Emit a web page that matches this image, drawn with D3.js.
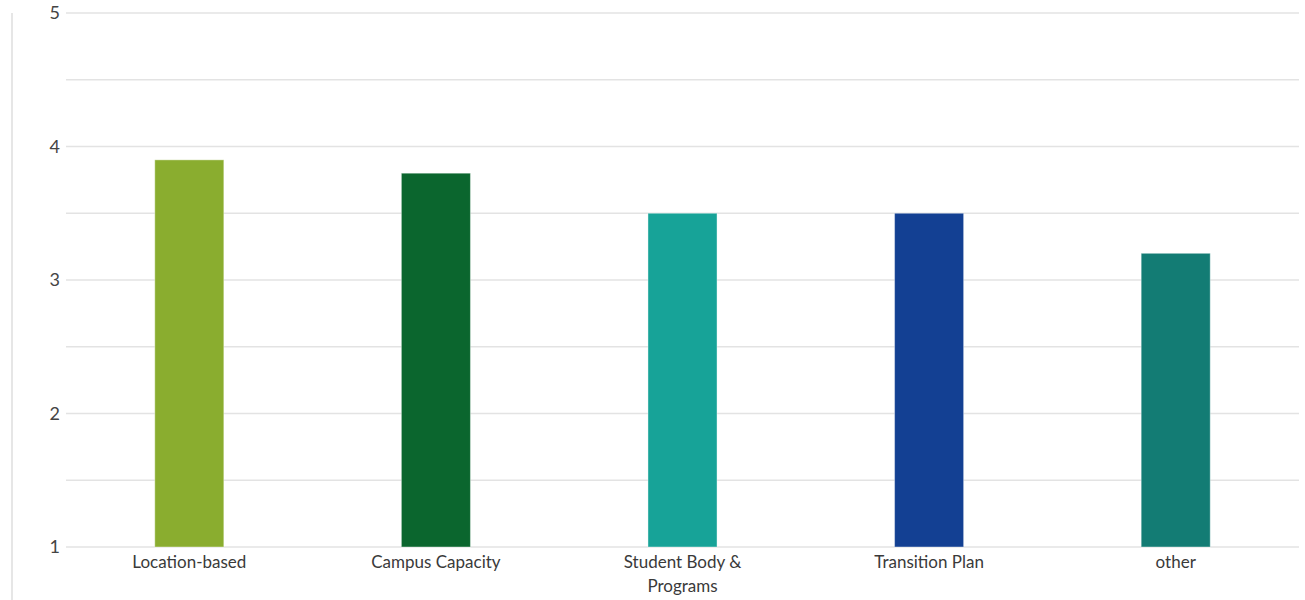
<!DOCTYPE html>
<html>
<head>
<meta charset="utf-8">
<script src="https://cdn.jsdelivr.net/npm/d3@7"></script>
<style>
  body { margin: 0; background: #fff; }
  svg { display: block; }
  svg text { font-family: Lato, 'Open Sans', sans-serif; }
</style>
</head>
<body>
<svg id="chart"></svg>
<script>
const categories = ['Location-based', 'Campus Capacity', 'Student Body & Programs', 'Transition Plan', 'other'];
const values = [3.9, 3.8, 3.5, 3.5, 3.2];
const barColors = ['#8aad2f', '#0b662e', '#17a398', '#134093', '#137c74'];
const yTicks = [1, 2, 3, 4, 5];
const gridTicks = [1, 1.5, 2, 2.5, 3, 3.5, 4, 4.5, 5];

const width = 1305, height = 600;
const margin = { top: 13, right: 6, bottom: 53, left: 66 };

const svg = d3.select('#chart')
  .attr('width', width)
  .attr('height', height);

// left border line
svg.append('line')
  .attr('x1', 12).attr('x2', 12)
  .attr('y1', 13).attr('y2', height)
  .attr('stroke', '#e6e6e6')
  .attr('stroke-width', 2);

const g = svg.append('g')
  .attr('transform', `translate(${margin.left},${margin.top})`);

const innerW = width - margin.left - margin.right;
const innerH = height - margin.top - margin.bottom;

const x = d3.scaleBand()
  .domain(categories)
  .range([0, innerW])
  .paddingInner(0.72)
  .paddingOuter(0.36);

const y = d3.scaleLinear()
  .domain([1, 5])
  .range([innerH, 0]);

// gridlines
g.append('g')
  .selectAll('line')
  .data(gridTicks)
  .enter()
  .append('line')
  .attr('x1', 0)
  .attr('x2', innerW)
  .attr('y1', d => y(d))
  .attr('y2', d => y(d))
  .attr('stroke', '#e3e3e3')
  .attr('stroke-width', 1.5);

// bars
g.selectAll('.bar')
  .data(categories)
  .enter()
  .append('rect')
  .attr('class', 'bar')
  .attr('x', d => x(d))
  .attr('y', (d, i) => y(values[i]))
  .attr('width', x.bandwidth())
  .attr('height', (d, i) => innerH - y(values[i]))
  .attr('fill', (d, i) => barColors[i])
  .attr('stroke', 'rgba(255,255,255,0.4)')
  .attr('stroke-width', 1);

// Y axis
const yAxis = g.append('g')
  .call(d3.axisLeft(y).tickValues(yTicks).tickFormat(d3.format('d')).tickSize(0).tickPadding(6));
yAxis.attr('font-family', null);
yAxis.select('.domain').remove();
yAxis.selectAll('text')
  .attr('fill', '#444')
  .style('font-size', '18px');

// X axis
const xAxis = g.append('g')
  .attr('transform', `translate(0,${innerH})`)
  .call(d3.axisBottom(x).tickSize(0).tickPadding(9));
xAxis.attr('font-family', null);
xAxis.select('.domain').remove();
xAxis.selectAll('text')
  .attr('fill', '#3a3a3a')
  .style('font-size', '17px')
  .call(wrap, 150);

function wrap(texts, maxW) {
  texts.each(function () {
    const text = d3.select(this);
    const words = text.text().split(/\s+/);
    const yy = text.attr('y');
    const dy = parseFloat(text.attr('dy'));
    text.text(null);
    let line = [];
    let lineNo = 0;
    let tspan = text.append('tspan').attr('x', 0).attr('y', yy).attr('dy', dy + 'em');
    words.forEach(w => {
      line.push(w);
      tspan.text(line.join(' '));
      if (tspan.node().getComputedTextLength() > maxW && line.length > 1) {
        line.pop();
        tspan.text(line.join(' '));
        line = [w];
        lineNo++;
        tspan = text.append('tspan').attr('x', 0).attr('y', yy)
          .attr('dy', (lineNo * 1.42 + dy) + 'em').text(w);
      }
    });
  });
}
</script>
</body>
</html>
